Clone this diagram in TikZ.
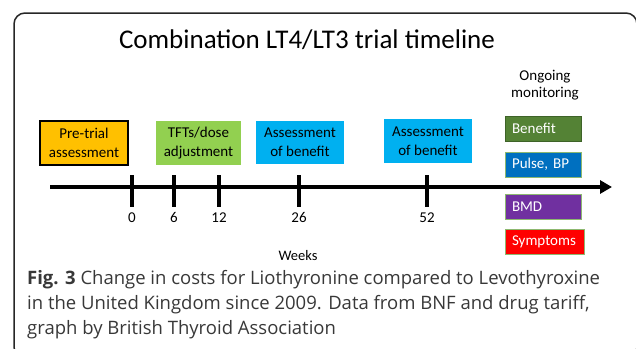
\documentclass[tikz,border=0pt]{standalone}
\usepackage{fontspec}
\setmainfont{Carlito}
\newfontfamily\captionfont{Open Sans}
\usepackage{tikz}
\usetikzlibrary{arrows.meta}

\definecolor{pretrial}{HTML}{FFC000}
\definecolor{dosegreen}{HTML}{92D050}
\definecolor{assessblue}{HTML}{00B0F0}
\definecolor{benefitgreen}{HTML}{548235}
\definecolor{benefitline}{HTML}{3E6328}
\definecolor{pulseblue}{HTML}{0070C0}
\definecolor{bmdpurple}{HTML}{7030A0}
\definecolor{symred}{HTML}{FF0000}
\definecolor{monline}{HTML}{8DB870}

\begin{document}
\begin{tikzpicture}[x=1pt,y=-1pt,>={Triangle[length=12pt,width=13pt]}, phase node/.style={minimum width=88pt,minimum height=44pt,inner sep=0pt,align=center,font=\fontsize{15}{19}\selectfont}, monitor node/.style={anchor=west,draw=monline,line width=1pt,text=white,minimum height=25pt,inner xsep=6.5pt,inner ysep=0pt,text width=63pt,align=left,font=\fontsize{15}{18}\selectfont}, week node/.style={anchor=base,font=\fontsize{15}{18}\selectfont}, tick/.style={line width=4pt}]

  \useasboundingbox (0,0) rectangle (636,348);
  \draw[rounded corners=11pt,line width=1.5pt,black!85] (14,13) rectangle (637,358);

  \node[anchor=base,font=\fontsize{27}{32}\selectfont] (title) at (307,48) {Combination LT4/LT3 trial timeline};

  \node[phase node,fill=pretrial,draw=black,line width=1.5pt] (pre) at (84,143) {Pre-trial\\assessment};
  \node[phase node,fill=dosegreen,minimum width=85pt] (dose) at (198.5,143) {TFTs/dose\\adjustment};
  \node[phase node,fill=assessblue,minimum height=43pt] (assess1) at (300,142.5) {Assessment\\of benefit};
  \node[phase node,fill=assessblue] (assess2) at (428,141) {Assessment\\of benefit};

  \node[anchor=base,align=center,font=\fontsize{15}{17}\selectfont] (ongoing) at (545,97) {Ongoing\\monitoring};
  \node[monitor node,fill=benefitgreen,draw=benefitline] (benefit) at (505,128.5) {Benefit};
  \node[monitor node,fill=pulseblue] (pulse) at (505,164.5) {Pulse, BP};
  \node[monitor node,fill=bmdpurple] (bmd) at (505,206.5) {BMD};
  \node[monitor node,fill=symred,text width=66pt] (symptoms) at (505,242) {Symptoms};

  % time axis
  \coordinate (axis start) at (50,187);
  \coordinate (axis end) at (612,187);
  \draw[->,line width=4.5pt] (axis start) -- (axis end);

  \draw[tick] (132,175) -- (132,207);
  \draw[tick] (174,175) -- (174,207);
  \draw[tick] (219,175) -- (219,207);
  \draw[tick] (299,175) -- (299,207);
  \draw[tick] (427,175) -- (427,207);

  \node[week node] (w0) at (132,222) {0};
  \node[week node] (w6) at (174,222) {6};
  \node[week node] (w12) at (219,222) {12};
  \node[week node] (w26) at (299,222) {26};
  \node[week node] (w52) at (427,222) {52};
  \node[week node,font=\fontsize{14.5}{17}\selectfont] (weeks) at (298,260) {Weeks};

  \node[anchor=base west,inner sep=0pt,align=left,text=black!78,font=\captionfont\fontsize{18.5}{25}\selectfont] (caption) at (27,334) {\textbf{Fig. 3} Change in costs for Liothyronine compared to Levothyroxine\\in the United Kingdom since 2009. Data from BNF and drug tariff,\\graph by British Thyroid Association};
\end{tikzpicture}
\end{document}
